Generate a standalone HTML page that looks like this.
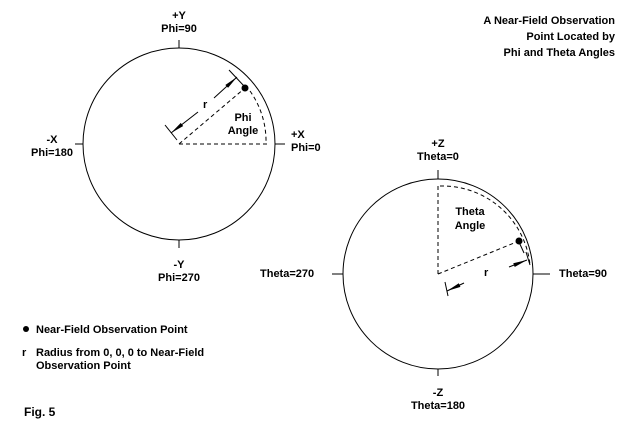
<!DOCTYPE html>
<html><head><style>
body{margin:0;background:#fff;}
text{font-family:"Liberation Sans",Arial,sans-serif;font-weight:bold;font-size:11px;fill:#000;}
</style></head><body>
<svg width="633" height="433" viewBox="0 0 633 433" xmlns="http://www.w3.org/2000/svg">
<defs>
<marker id="a" markerWidth="14" markerHeight="6" refX="14" refY="3" orient="auto" markerUnits="userSpaceOnUse"><path d="M0,1 L14,3 L0,5 Z" fill="#000"/></marker>
</defs>
<g fill="none" stroke="#000" stroke-width="1">
<circle cx="179" cy="144" r="96"/>
<line x1="179" y1="40" x2="179" y2="48"/>
<line x1="179" y1="240" x2="179" y2="248"/>
<line x1="75" y1="144" x2="83" y2="144"/>
<line x1="275" y1="144" x2="285" y2="144"/>
<g stroke-dasharray="4,3">
<line x1="179" y1="144" x2="270" y2="144"/>
<line x1="179" y1="144" x2="245" y2="88"/>
<path d="M250,91 A87,87 0 0 1 266,144"/>
</g>
<line x1="165" y1="125" x2="177" y2="140"/>
<line x1="229" y1="70" x2="244" y2="86"/>
<line x1="198" y1="112" x2="171" y2="133" marker-end="url(#a)"/>
<line x1="214" y1="98" x2="237" y2="77" marker-end="url(#a)"/>
<circle cx="438" cy="274" r="95"/>
<line x1="438" y1="170" x2="438" y2="179"/>
<line x1="438" y1="369" x2="438" y2="376"/>
<line x1="332" y1="274" x2="343" y2="274"/>
<line x1="533" y1="274" x2="550" y2="274"/>
<g stroke-dasharray="4,3">
<line x1="438" y1="274" x2="438" y2="183"/>
<line x1="438" y1="274" x2="519" y2="241"/>
<path d="M440,186 A88,88 0 0 1 530,265"/>
</g>
<line x1="519" y1="242" x2="524" y2="253"/>
<line x1="445" y1="282" x2="448" y2="296"/>
<line x1="526" y1="252" x2="530" y2="265"/>
<line x1="464" y1="283" x2="447" y2="291" marker-end="url(#a)"/>
<line x1="509" y1="267" x2="527" y2="260" marker-end="url(#a)"/>
</g>
<circle cx="245" cy="88" r="3.5" fill="#000"/>
<circle cx="519" cy="241" r="3.5" fill="#000"/>
<circle cx="26" cy="329" r="3" fill="#000"/>
<text x="179" y="19" text-anchor="middle">+Y</text>
<text x="179" y="32" text-anchor="middle">Phi=90</text>
<text x="179" y="268" text-anchor="middle">-Y</text>
<text x="179" y="281" text-anchor="middle">Phi=270</text>
<text x="52" y="143" text-anchor="middle">-X</text>
<text x="52" y="156" text-anchor="middle">Phi=180</text>
<text x="291" y="138">+X</text>
<text x="291" y="151">Phi=0</text>
<text x="203" y="108">r</text>
<text x="243" y="121" text-anchor="middle">Phi</text>
<text x="243" y="134" text-anchor="middle">Angle</text>
<text x="438" y="147" text-anchor="middle">+Z</text>
<text x="438" y="160" text-anchor="middle">Theta=0</text>
<text x="438" y="396" text-anchor="middle">-Z</text>
<text x="438" y="409" text-anchor="middle">Theta=180</text>
<text x="260" y="277">Theta=270</text>
<text x="559" y="277">Theta=90</text>
<text x="470" y="215" text-anchor="middle">Theta</text>
<text x="470" y="229" text-anchor="middle">Angle</text>
<text x="484" y="276">r</text>
<text x="615" y="24" text-anchor="end">A Near-Field Observation</text>
<text x="615" y="40" text-anchor="end">Point Located by</text>
<text x="615" y="56" text-anchor="end">Phi and Theta Angles</text>
<text x="36" y="333">Near-Field Observation Point</text>
<text x="22" y="356">r</text>
<text x="36" y="356">Radius from 0, 0, 0 to Near-Field</text>
<text x="36" y="369">Observation Point</text>
<text x="24" y="416" style="font-size:12px">Fig. 5</text>
</svg>
</body></html>
